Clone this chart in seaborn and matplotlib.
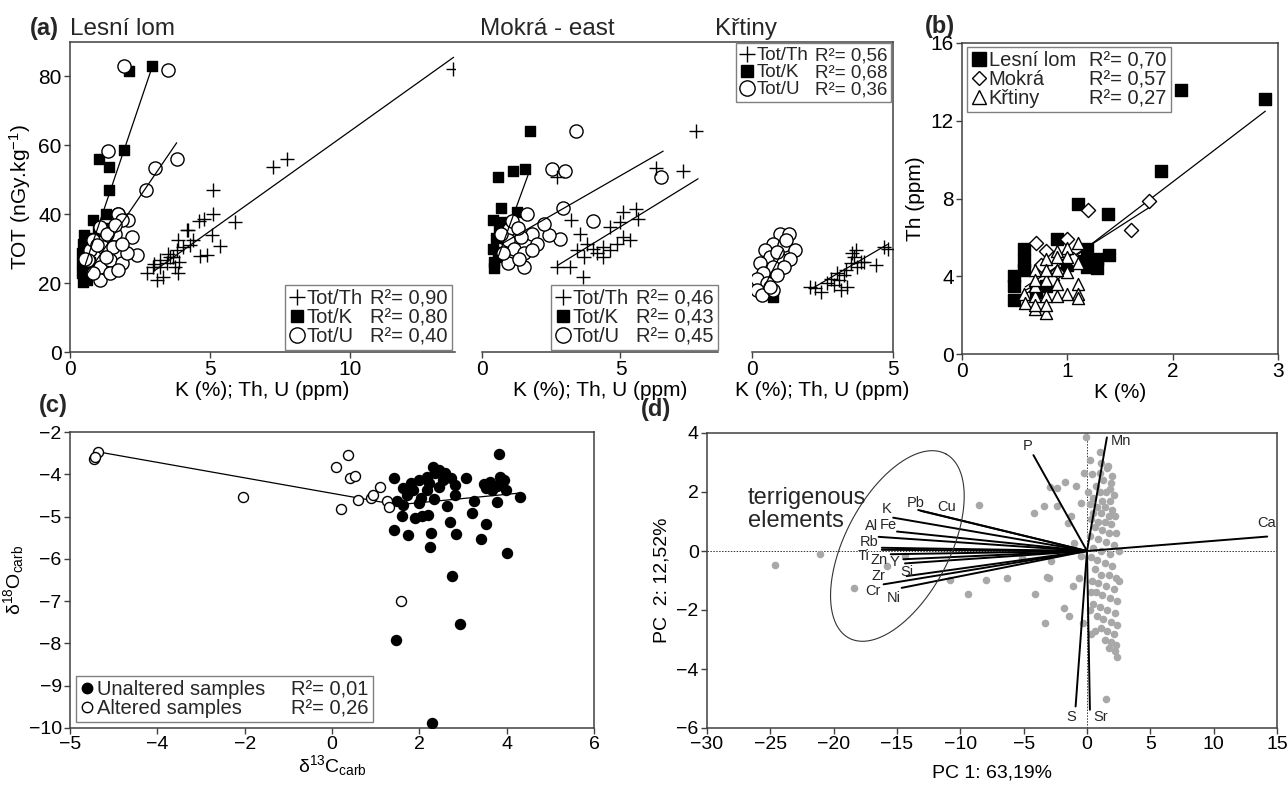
import numpy as np
import matplotlib
matplotlib.use("Agg")
import matplotlib.pyplot as plt
from matplotlib.lines import Line2D
import seaborn as sns

# ── data: (a) TOT dose rate vs K, Th, U ──────────────────────────────────────
LL_TH_X = [13.67, 7.24, 7.74, 5.12, 5.12, 4.79, 4.6, 5.89, 4.19, 5.06, 5.36, 4.88, 4.64,
           2.74, 3.1, 3.33, 2.98, 3.21, 3.45, 3.69, 3.87, 3.81, 4.05, 4.23, 4.4, 3.87,
           3.75, 3.57, 3.21, 4.3, 3.0, 3.5, 3.9]
LL_TH_Y = [82.2, 53.7, 55.9, 47.0, 40.2, 38.6, 38.0, 37.8, 35.3, 33.9, 30.7, 28.1, 28.0,
           22.8, 20.9, 21.8, 24.7, 26.7, 25.7, 27.7, 22.8, 29.6, 30.5, 35.4, 32.5, 32.5,
           24.7, 27.7, 24.7, 31.0, 25.5, 28.5, 26.0]
LL_K_X = [2.92, 2.1, 1.94, 1.05, 1.39, 1.39, 1.27, 0.82, 0.48, 0.42, 0.42, 0.42, 0.48,
          0.6, 0.55, 0.7, 0.68, 1.0, 1.2, 0.65, 0.5, 0.75]
LL_K_Y = [82.9, 81.7, 58.6, 56.1, 53.7, 47.0, 40.2, 38.3, 20.4, 22.8, 25.7, 28.6, 31.5,
          21.0, 24.0, 26.0, 31.6, 35.0, 36.0, 33.0, 34.0, 23.5]
LL_U_X = [1.93, 3.51, 3.81, 3.04, 2.71, 1.37, 1.73, 2.4, 2.2, 1.72, 2.08, 1.07, 1.61,
          1.19, 1.55, 0.71, 0.65, 1.07, 1.43, 1.85, 2.02, 1.07, 0.83, 1.43, 1.73, 1.31,
          1.85, 0.83, 1.85, 0.54, 1.3, 1.6, 0.95]
LL_U_Y = [82.9, 82.0, 56.1, 53.5, 47.0, 58.4, 40.0, 28.1, 33.4, 40.2, 38.3, 36.3, 34.4,
          30.5, 30.5, 29.6, 26.7, 24.7, 26.7, 25.7, 28.6, 20.9, 22.8, 22.8, 23.8, 34.4,
          31.5, 32.5, 38.3, 27.1, 27.5, 37.0, 31.0]

MK_TH_X = [7.71, 6.29, 7.26, 2.71, 3.23, 5.1, 5.57, 5.63, 4.98, 4.62, 3.55, 3.79, 5.33,
           5.1, 4.38, 4.02, 3.43, 3.67, 4.14, 4.62, 4.86, 4.38, 2.71, 3.19, 3.64]
MK_TH_Y = [64.1, 53.5, 52.5, 50.8, 38.3, 40.7, 41.6, 38.7, 37.8, 36.3, 34.4, 31.5, 32.5,
           33.4, 30.5, 30.0, 29.6, 27.6, 28.6, 29.6, 31.5, 27.6, 24.7, 24.7, 21.8]
MK_K_X = [1.74, 0.57, 1.11, 1.56, 0.67, 1.26, 0.39, 0.81, 0.45, 0.57, 0.4, 0.5, 0.6, 0.45, 0.7]
MK_K_Y = [64.1, 50.8, 52.5, 53.2, 41.9, 40.7, 38.3, 37.8, 24.3, 27.6, 30.0, 33.0, 35.0, 26.0, 29.0]
MK_U_X = [3.4, 2.54, 3.01, 6.46, 2.93, 4.02, 2.83, 2.42, 1.64, 2.24, 1.82, 0.99, 1.4,
          2.0, 0.93, 1.17, 1.52, 0.93, 1.52, 0.75, 1.35, 1.82, 0.69, 1.1, 1.3]
MK_U_Y = [64.1, 53.2, 52.5, 50.8, 41.8, 38.1, 32.8, 33.9, 40.2, 37.3, 34.4, 35.8, 33.4,
          31.5, 32.5, 30.0, 28.6, 25.7, 24.7, 28.6, 27.1, 29.6, 34.4, 38.0, 36.0]

KR_TH_X = [2.07, 2.43, 2.25, 2.67, 2.9, 3.02, 3.26, 3.38, 3.14, 3.5, 3.62, 3.74, 3.86,
           3.56, 3.68, 4.39, 3.98, 4.69, 4.81, 2.79, 3.08, 3.32]
KR_TH_Y = [18.9, 17.5, 18.5, 19.9, 19.4, 22.8, 22.3, 18.9, 18.0, 25.7, 27.6, 24.7, 26.2,
           28.6, 29.6, 25.2, 26.2, 30.5, 30.0, 21.3, 20.9, 23.8]
KR_K_X = [0.75, 0.6, 0.5, 0.45, 0.6, 0.7]
KR_K_Y = [16.0, 17.0, 20.0, 23.0, 26.0, 29.0]
KR_U_X = [1.0, 1.3, 0.76, 1.12, 1.54, 0.46, 0.64, 1.0, 1.36, 0.29, 0.76, 1.12, 0.4,
          0.88, 0.17, 0.52, 0.17, 0.35, 0.76, 0.64, 1.2, 0.9]
KR_U_Y = [34.4, 34.4, 31.5, 31.0, 29.6, 29.6, 27.6, 27.1, 27.1, 25.7, 24.7, 24.7, 22.8,
          22.3, 21.3, 19.9, 18.0, 16.5, 18.0, 18.9, 32.5, 29.0]

# regression lines: intercept, slope, x-range
LL_FIT_A = [6.1, 12.2, 15.4]
LL_FIT_B = [5.8, 24.05, 11.9]
LL_FIT_X = [(3.0, 13.7), (0.36, 2.95), (0.54, 3.81)]
MK_FIT_A = [11.6, 14.8, 28.1]
MK_FIT_B = [4.96, 22.0, 4.62]
MK_FIT_X = [(2.74, 7.8), (0.5, 1.66), (0.7, 6.54)]
KR_FIT_A = [8.26, 12.0]
KR_FIT_B = [4.78, 16.0]
KR_FIT_X = [(2.1, 4.8), (0.4, 1.1)]

TOT_NAMES = ["Tot/Th", "Tot/K", "Tot/U"]
LL_R2 = ["0,90", "0,80", "0,40"]
MK_R2 = ["0,46", "0,43", "0,45"]
KR_R2 = ["0,56", "0,68", "0,36"]

# ── data: (b) Th vs K ────────────────────────────────────────────────────────
B_LL_X = [1.89, 2.08, 2.88, 1.1, 1.39, 0.9, 1.4, 1.28, 1.28, 1.19, 0.59, 0.59, 0.59,
          0.49, 0.49, 0.49, 1.16, 1.19, 0.8, 0.7, 1.0]
B_LL_Y = [9.4, 13.6, 13.1, 7.7, 7.2, 5.9, 5.1, 4.9, 4.4, 5.4, 5.4, 4.8, 4.3,
          4.0, 3.5, 2.8, 4.8, 4.5, 3.5, 3.2, 4.6]
B_MK_X = [1.78, 1.6, 1.2, 0.7, 0.8, 1.0, 0.75, 0.9, 1.05, 0.85]
B_MK_Y = [7.85, 6.4, 7.4, 5.7, 5.3, 5.9, 4.6, 4.2, 4.9, 3.8]
B_KR_X = [1.1, 1.0, 0.9, 0.8, 0.69, 0.59, 0.6, 0.69, 0.8, 0.69, 0.8, 0.9, 1.0, 1.1,
          1.1, 1.0, 0.9, 1.1, 0.8, 0.69, 0.9, 0.8, 1.0, 0.9, 0.69, 0.69, 0.8, 1.1]
B_KR_Y = [5.7, 5.45, 5.3, 4.9, 4.3, 3.1, 2.6, 2.3, 2.1, 3.0, 3.0, 3.6, 4.2, 4.7,
          3.6, 3.1, 3.0, 3.1, 3.8, 3.5, 4.3, 4.3, 5.0, 5.0, 3.8, 2.5, 2.5, 2.9]
B_FIT_A = [0.57, 1.37, 1.6]
B_FIT_B = [4.14, 3.47, 2.8]
B_FIT_X = [(0.5, 2.88), (0.6, 1.78), (0.6, 1.1)]
B_NAMES = ["Lesní lom", "Mokrá", "Křtiny"]
B_R2 = ["0,70", "0,57", "0,27"]

# ── data: (c) carbon / oxygen isotopes ───────────────────────────────────────
ALT_X = [-5.45, -5.37, -5.42, -2.04, 0.09, 0.36, 0.41, 0.52, 0.2, 0.59, 0.9, 0.95,
         1.09, 1.27, 1.31, 1.58]
ALT_Y = [-3.65, -3.47, -3.58, -4.53, -3.82, -3.54, -4.08, -4.04, -4.82, -4.61, -4.57,
         -4.49, -4.31, -4.63, -4.77, -6.99]
UNALT_X = [3.82, 4.3, 4.01, 2.74, 2.93, 1.47, 2.29, 1.43, 3.08, 2.32, 2.35, 2.17, 1.99,
           1.81, 1.63, 2.54, 2.72, 2.81, 2.04, 1.72, 2.34, 2.81, 1.49, 1.63, 1.99, 2.64,
           3.26, 1.6, 1.9, 2.07, 2.19, 3.21, 1.43, 1.75, 2.26, 2.84, 2.7, 3.53, 3.42,
           2.24, 3.49, 3.62, 3.79, 3.85, 3.9, 3.99, 3.79, 3.95, 3.53, 3.67, 2.45, 2.58,
           2.22, 1.85, 2.17, 2.45]
UNALT_Y = [-3.52, -4.53, -5.87, -6.4, -7.54, -7.93, -9.89, -4.09, -4.09, -3.83, -3.97,
           -4.06, -4.13, -4.21, -4.33, -4.13, -4.09, -4.25, -4.57, -4.49, -4.59, -4.49,
           -4.62, -4.73, -4.69, -4.75, -4.63, -4.99, -5.04, -4.99, -4.96, -4.92, -5.32,
           -5.43, -5.38, -5.42, -5.12, -5.18, -5.54, -5.71, -4.24, -4.18, -4.28, -4.06,
           -4.2, -4.37, -4.65, -4.14, -4.33, -4.37, -3.9, -3.97, -4.21, -4.37, -4.37, -4.29]
C_FIT_A = [-4.87, -4.45]
C_FIT_B = [0.099, -0.183]
C_FIT_X = [(1.45, 4.3), (-5.43, 1.45)]
C_NAMES = ["Unaltered samples", "Altered samples"]
C_R2 = ["0,01", "0,26"]
C_XTICKS = [-6, -4, -2, 0, 2, 4, 6]
C_XTICKLABELS = ["\u22125", "\u22124", "\u22122", "0", "2", "4", "6"]
C_YTICKS = [-10, -9, -8, -7, -6, -5, -4, -3]
C_YTICKLABELS = ["\u221210", "\u22129", "\u22128", "\u22127", "\u22126", "\u22125", "\u22124", "\u22122"]

# ── data: (d) PCA biplot ─────────────────────────────────────────────────────
SCORE_X = [-24.67, -21.07, -18.43, -15.8, -14.4, -8.5, -10.83, -9.43, -8.0, -6.33, -5.1,
           -4.17, -3.43, -2.33, -1.73, -2.33, -0.83, -0.23, -0.07, 1.0, 1.67, 2.0, 1.83,
           1.0, -4.1, -1.84, -1.45, -3.33, -1.07, -3.17, -3.0, -2.83, -1.0, -1.23, -1.5,
           -0.5, 1.5, 0.33, -0.33, -0.67, -0.5, -2.93,
           0.2, 1.1, 1.6, 0.4, 1.3, 1.9, 0.7, 0.1, 1.0, 1.5, 2.1, 0.5, 1.2, 1.8, 0.2, 0.8,
           1.4, 2.0, 0.5, 1.1, 1.7, 2.2, 0.3, 0.9, 1.4, 1.9, 0.6, 1.2, 1.7, 2.3, 0.2, 0.9,
           1.5, 2.1, 0.5, 1.1, 1.8, 0.3, 0.8, 1.4, 2.0, 0.6, 1.1, 1.7, 2.3, 0.4, 0.9, 1.5,
           2.1, 0.7, 1.2, 1.8, 2.4, 0.5, 1.0, 1.6, 2.2, 0.8, 1.3, 1.9, 2.4, 1.1, 1.6, 2.1,
           1.4, 1.9, 2.3, 1.7, 2.2, 2.4, 0.3, 0.2, 0.6, 2.5, 2.5]
SCORE_Y = [-0.49, -0.09, -1.27, -0.51, -0.17, 1.55, -0.99, -1.47, -0.99, -0.93, -0.23,
           1.3, 1.51, 1.51, 2.34, 2.15, 2.21, 2.64, 3.85, 3.34, 2.89, 2.55, 2.1, 2.66,
           -1.47, -1.93, -2.2, -2.43, -1.19, -0.87, -0.91, -0.34, 0.28, 1.19, 0.96, 1.64,
           -5.02, -2.83, -2.43, -0.91, -0.17, 2.18,
           3.1, 3.0, 2.8, 2.6, 2.4, 2.3, 2.2, 2.0, 2.0, 2.0, 1.9, 1.8, 1.7, 1.7, 1.6, 1.5,
           1.5, 1.4, 1.3, 1.3, 1.2, 1.2, 1.1, 1.0, 1.0, 0.9, 0.8, 0.7, 0.6, 0.6, 0.5, 0.4,
           0.3, 0.2, 0.1, 0.0, -0.1, -0.2, -0.3, -0.4, -0.5, -0.6, -0.8, -0.8, -0.9, -1.0,
           -1.1, -1.2, -1.3, -1.4, -1.5, -1.6, -1.7, -1.8, -1.9, -2.0, -2.1, -2.2, -2.3,
           -2.4, -2.5, -2.6, -2.7, -2.8, -3.0, -3.1, -3.2, -3.3, -3.4, -3.6, -1.4, -2.0,
           -2.7, -1.0, 0.0]
LOAD_NAMES = ["Pb", "Cu", "K", "Fe", "Al", "Rb", "Ti", "Zn", "Y", "Si", "Zr", "Cr", "Ni",
              "P", "Mn", "Ca", "S", "Sr"]
LOAD_X = [-13.33, -13.1, -15.3, -15.0, -16.45, -16.2, -16.2, -15.5, -14.5, -14.37,
          -14.24, -16.06, -14.63, -4.23, 1.57, 14.23, -0.9, 0.23]
LOAD_Y = [1.39, 1.36, 1.13, 0.66, 0.48, 0.11, 0.04, -0.11, -0.28, -0.42, -0.85, -1.13,
          -1.25, 3.25, 3.85, 0.49, -5.27, -5.38]
# where each element name sits (data coords)
LABEL_XY = {"Pb": (-13.5, 1.62), "Cu": (-11.07, 1.5), "K": (-15.83, 1.42),
            "Fe": (-15.67, 0.87), "Al": (-17.0, 0.85), "Rb": (-17.23, 0.31),
            "Ti": (-17.65, -0.17), "Zn": (-16.45, -0.31), "Y": (-15.2, -0.37),
            "Si": (-14.2, -0.72), "Zr": (-16.43, -0.84), "Cr": (-16.9, -1.36),
            "Ni": (-15.23, -1.59), "P": (-4.67, 3.55), "Mn": (2.67, 3.74),
            "Ca": (14.17, 0.96), "S": (-1.23, -5.63), "Sr": (1.1, -5.63)}
# ellipse round the terrigenous loadings: centre, half-axis vectors
ELL_C = (-14.97, 0.17)
ELL_MAJOR = (3.83, 3.12)
ELL_MINOR = (3.63, -0.84)

# ── style ────────────────────────────────────────────────────────────────────
W, H = 1287, 789
sns.set_style("ticks")
plt.rcParams["font.family"] = ["Liberation Sans", "DejaVu Sans"]
plt.rcParams.update({
    "mathtext.fontset": "custom",
    "mathtext.rm": "Liberation Sans",
    "mathtext.it": "Liberation Sans:italic",
    "mathtext.bf": "Liberation Sans:bold",
    "axes.edgecolor": "#404040",
    "axes.linewidth": 1.1,
    "xtick.color": "#404040", "ytick.color": "#404040",
    "xtick.labelcolor": "black", "ytick.labelcolor": "black",
    "xtick.major.size": 4, "ytick.major.size": 4,
    "xtick.major.width": 1.0, "ytick.major.width": 1.0,
    "xtick.direction": "out", "ytick.direction": "out",
    "xtick.major.pad": 2, "ytick.major.pad": 2,
    "axes.labelcolor": "black",
})


def px_axes(fig, left, top, right, bottom):
    ax = fig.add_axes([left / W, 1 - bottom / H, (right - left) / W, (bottom - top) / H])
    ax.patch.set_alpha(0)
    return ax


def ftext(fig, x, y, s, **kw):
    fig.text(x / W, 1 - y / H, s, **kw)


def dots(ax, x, y, marker, face, size, lw=1.0, z=3):
    if marker == "+":
        sns.scatterplot(x=x, y=y, ax=ax, marker=marker, s=size, color="black",
                        linewidth=lw, zorder=z, legend=False)
    else:
        sns.scatterplot(x=x, y=y, ax=ax, marker=marker, s=size, color=face,
                        edgecolor="black", linewidth=lw, zorder=z, legend=False)


def fits(ax, a_list, b_list, x_list, z=4, lw=0.9):
    for a, b, (x0, x1) in zip(a_list, b_list, x_list):
        xs = np.array([x0, x1])
        sns.lineplot(x=xs, y=a + b * xs, ax=ax, color="black", linewidth=lw,
                     zorder=z, sort=False, legend=False)


def r2_legend(ax, handles, names, r2, fontsize, colsp, **kw):
    blank = [Line2D([], [], linestyle="none") for _ in r2]
    leg = ax.legend(handles + blank, names + [f"R²= {v}" for v in r2], ncol=2,
                    fontsize=fontsize, handlelength=0.75, handletextpad=0.12,
                    columnspacing=colsp, labelspacing=0.0, borderpad=0.2,
                    frameon=True, fancybox=False, framealpha=1, edgecolor="#808080",
                    borderaxespad=0, **kw)
    leg.get_frame().set_linewidth(1.0)
    return leg


def tot_handles():
    return [Line2D([], [], marker="+", color="black", linestyle="none", markersize=11, mew=1.0),
            Line2D([], [], marker="s", color="black", linestyle="none", markersize=9),
            Line2D([], [], marker="o", mfc="white", mec="black", linestyle="none",
                   markersize=11, mew=1.0)]


fig = plt.figure(figsize=(W / 100, H / 100), dpi=100)

# ── (a) ──────────────────────────────────────────────────────────────────────
frame = px_axes(fig, 70, 42, 893, 352)
frame.set_xticks([])
frame.set_yticks([])
for side in ("left", "bottom"):
    frame.spines[side].set_visible(False)

panels = [
    (70, 455, 13.75, [0, 5, 10], (LL_K_X, LL_K_Y), (LL_U_X, LL_U_Y), (LL_TH_X, LL_TH_Y),
     (LL_FIT_A, LL_FIT_B, LL_FIT_X)),
    (482, 718, 8.52, [0, 5], (MK_K_X, MK_K_Y), (MK_U_X, MK_U_Y), (MK_TH_X, MK_TH_Y),
     (MK_FIT_A, MK_FIT_B, MK_FIT_X)),
    (752, 893, 5.0, [0, 5], (KR_K_X, KR_K_Y), (KR_U_X, KR_U_Y), (KR_TH_X, KR_TH_Y),
     (KR_FIT_A, KR_FIT_B, KR_FIT_X)),
]
a_axes = []
for i, (l, r, xmax, xt, k, u, th, fit) in enumerate(panels):
    ax = px_axes(fig, l, 42, r, 352)
    dots(ax, k[0], k[1], "s", "black", 58)
    dots(ax, u[0], u[1], "o", "white", 90)
    dots(ax, th[0], th[1], "+", "black", 95)
    fits(ax, *fit)
    ax.set_xlim(0, xmax)
    ax.set_ylim(0, 90)
    ax.set_xticks(xt)
    ax.tick_params(labelsize=15)
    ax.set_xlabel("K (%); Th, U (ppm)", fontsize=15, labelpad=1)
    ax.set_ylabel("")
    ax.spines["top"].set_visible(False)
    ax.spines["right"].set_visible(False)
    if i == 0:
        ax.set_yticks([0, 20, 40, 60, 80])
        ax.set_ylabel("TOT (nGy.kg$^{-1}$)", fontsize=15, labelpad=4)
    else:
        ax.spines["left"].set_visible(False)
        ax.tick_params(left=False, labelleft=False)
    a_axes.append(ax)

r2_legend(a_axes[0], tot_handles(), TOT_NAMES, LL_R2, 14.5, -0.5,
          loc="lower right", bbox_to_anchor=(0.992, 0.006))
r2_legend(a_axes[1], tot_handles(), TOT_NAMES, MK_R2, 14.5, -0.5,
          loc="lower right", bbox_to_anchor=(1.0, 0.006))
r2_legend(a_axes[2], tot_handles(), TOT_NAMES, KR_R2, 13.5, -0.5,
          loc="upper right", bbox_to_anchor=(0.989, 0.996))

ftext(fig, 30, 35, "(a)", fontsize=17, weight="bold", va="baseline")
ftext(fig, 70, 35, "Lesní lom", fontsize=17.5, va="baseline")
ftext(fig, 480, 35, "Mokrá - east", fontsize=17.5, va="baseline")
ftext(fig, 715, 35, "Křtiny", fontsize=17.5, va="baseline")

# ── (b) ──────────────────────────────────────────────────────────────────────
axb = px_axes(fig, 962, 43, 1278, 354)
fits(axb, B_FIT_A, B_FIT_B, B_FIT_X, z=1)
dots(axb, B_LL_X, B_LL_Y, "s", "black", 74)
dots(axb, B_MK_X, B_MK_Y, "D", "white", 52)
dots(axb, B_KR_X, B_KR_Y, "^", "white", 75)
axb.set_xlim(0, 3)
axb.set_ylim(0, 16)
axb.set_xticks([0, 1, 2, 3])
axb.set_yticks([0, 4, 8, 12, 16])
axb.tick_params(labelsize=15)
axb.set_xlabel("K (%)", fontsize=15, labelpad=1)
axb.set_ylabel("Th (ppm)", fontsize=15, labelpad=4)
b_handles = [Line2D([], [], marker="s", color="black", linestyle="none", markersize=10),
             Line2D([], [], marker="D", mfc="white", mec="black", linestyle="none",
                    markersize=7.5, mew=1.0),
             Line2D([], [], marker="^", mfc="white", mec="black", linestyle="none",
                    markersize=10, mew=1.0)]
r2_legend(axb, b_handles, B_NAMES, B_R2, 14.5, -0.2,
          loc="upper left", bbox_to_anchor=(0.016, 0.987))
ftext(fig, 925, 33, "(b)", fontsize=17, weight="bold", va="baseline")

# ── (c) ──────────────────────────────────────────────────────────────────────
axc = px_axes(fig, 70, 432, 594, 728)
fits(axc, C_FIT_A, C_FIT_B, C_FIT_X, z=2)
dots(axc, UNALT_X, UNALT_Y, "o", "black", 52)
dots(axc, ALT_X, ALT_Y, "o", "white", 52)
axc.set_xlim(-6, 6)
axc.set_ylim(-10, -3)
axc.set_xticks(C_XTICKS, C_XTICKLABELS)
axc.set_yticks(C_YTICKS, C_YTICKLABELS)
axc.tick_params(labelsize=14)
axc.set_xlabel(r"δ$^{13}$C$_{\mathrm{carb}}$", fontsize=14, labelpad=0)
axc.set_ylabel(r"δ$^{18}$O$_{\mathrm{carb}}$", fontsize=14, labelpad=2)
c_handles = [Line2D([], [], marker="o", color="black", linestyle="none", markersize=7.5),
             Line2D([], [], marker="o", mfc="white", mec="black", linestyle="none",
                    markersize=7.5, mew=1.0)]
r2_legend(axc, c_handles, C_NAMES, C_R2, 14.5, 0.4,
          loc="lower left", bbox_to_anchor=(0.011, 0.02))
ftext(fig, 39, 412, "(c)", fontsize=17, weight="bold", va="baseline")

# ── (d) ──────────────────────────────────────────────────────────────────────
axd = px_axes(fig, 707, 433, 1277, 728)
axd.axhline(0, color="#333333", linestyle=(0, (1.5, 1.5)), linewidth=0.7, zorder=1)
axd.axvline(0, color="#333333", linestyle=(0, (1.5, 1.5)), linewidth=0.7, zorder=1)
sns.scatterplot(x=SCORE_X, y=SCORE_Y, ax=axd, color="#a8a8a8", s=30, linewidth=0,
                zorder=2, legend=False)
for name, lx, ly in zip(LOAD_NAMES, LOAD_X, LOAD_Y):
    sns.lineplot(x=[0, lx], y=[0, ly], ax=axd, color="black", linewidth=1.4,
                 zorder=3, sort=False, legend=False)
for name, (tx, ty) in LABEL_XY.items():
    axd.text(tx, ty, name, fontsize=10.5, ha="center", va="center", zorder=4)
t = np.linspace(0, 2 * np.pi, 200)
axd.plot(ELL_C[0] + ELL_MAJOR[0] * np.cos(t) + ELL_MINOR[0] * np.sin(t),
         ELL_C[1] + ELL_MAJOR[1] * np.cos(t) + ELL_MINOR[1] * np.sin(t),
         color="#333333", linewidth=0.8, zorder=3)
axd.text(-26.8, 1.4, "terrigenous\nelements", fontsize=17, ha="left", va="center",
         linespacing=1.05, zorder=4)
axd.set_xlim(-30, 15)
axd.set_ylim(-6, 4)
axd.set_xticks(range(-30, 16, 5))
axd.set_yticks(range(-6, 5, 2))
axd.tick_params(labelsize=14)
axd.set_xlabel("PC 1: 63,19%", fontsize=14, labelpad=8)
axd.set_ylabel("PC  2: 12,52%", fontsize=14, labelpad=4)
ftext(fig, 641, 416, "(d)", fontsize=17, weight="bold", va="baseline")

fig.savefig("out.png", dpi=100)
